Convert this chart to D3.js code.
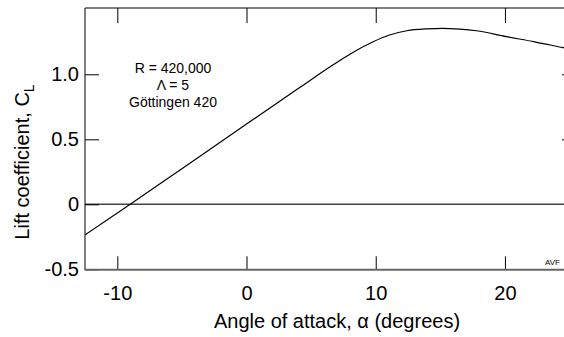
<!DOCTYPE html>
<html>
<head>
<meta charset="utf-8">
<script src="https://cdn.jsdelivr.net/npm/d3@7/dist/d3.min.js"></script>
<style>
  html, body { margin: 0; padding: 0; background: #fff; overflow: hidden; }
  svg { display: block; font-family: "Liberation Sans", Arial, Helvetica, sans-serif; }
</style>
</head>
<body>
<script>
// ---- data ----
const alpha = [-12.5, -9, -5, 0, 4, 6.5, 8, 9.8, 11, 12.4, 14, 15.2, 16.5, 17.8, 20.1, 22.3, 24.5, 25.5];
const liftCL = [-0.235, 0, 0.274, 0.617, 0.89, 1.06, 1.155, 1.25, 1.30, 1.335, 1.35, 1.354, 1.348, 1.335, 1.29, 1.25, 1.205, 1.185];
const xTicks = [-10, 0, 10, 20];
const xTickLabels = ["-10", "0", "10", "20"];
const yTicks = [-0.5, 0, 0.5, 1.0];
const yTickLabels = ["-0.5", "0", "0.5", "1.0"];
const annotation = ["R = 420,000", "\u039B = 5", "G\u00F6ttingen 420"];

const W = 564, H = 337;
const pL = 85, pR = 576, pT = 8, pB = 269.3;
const bigFont = "20px";

const svg = d3.select("body").append("svg").attr("width", W).attr("height", H);

const x = d3.scaleLinear().domain([-12.5, 25.5]).range([pL, pR]);
const y = d3.scaleLinear().domain([-0.5, 1.51]).range([pB, pT]);

// clip
svg.append("defs").append("clipPath").attr("id", "clip")
  .append("rect").attr("x", pL).attr("y", pT).attr("width", pR - pL).attr("height", pB - pT);

// zero line
svg.append("line")
  .attr("x1", pL).attr("x2", pR)
  .attr("y1", y(0)).attr("y2", y(0))
  .attr("stroke", "#444").attr("stroke-width", 1.4);

// axes
const axB = svg.append("g").attr("transform", `translate(0,${pB})`)
  .call(d3.axisBottom(x).tickValues(xTicks).tickSizeInner(-13).tickSizeOuter(0).tickPadding(17)
    .tickFormat((d, i) => xTickLabels[i]));
const axT = svg.append("g").attr("transform", `translate(0,${pT})`)
  .call(d3.axisTop(x).tickValues(xTicks).tickSizeInner(-15).tickSizeOuter(0).tickFormat(""));
const axL = svg.append("g").attr("transform", `translate(${pL},0)`)
  .call(d3.axisLeft(y).tickValues(yTicks).tickSizeInner(-14).tickSizeOuter(0).tickPadding(6)
    .tickFormat((d, i) => yTickLabels[i]));
const axR = svg.append("g").attr("transform", `translate(${pR},0)`)
  .call(d3.axisRight(y).tickValues([0.5, 1.0]).tickSizeInner(-14).tickSizeOuter(0).tickFormat(""));

[axB, axT, axL, axR].forEach(g => {
  g.attr("font-size", null).attr("font-family", null);
  g.select(".domain").remove();
  g.selectAll(".tick line").attr("stroke", "#000").attr("stroke-width", 1);
  g.selectAll("text").attr("fill", "#000").style("font-size", bigFont)
    .style("font-family", '"Liberation Sans", Arial, sans-serif');
});

// frame
svg.append("line").attr("x1", pL).attr("x2", pR).attr("y1", pT).attr("y2", pT)
  .attr("stroke", "#000").attr("stroke-width", 1);
svg.append("line").attr("x1", pL).attr("x2", pL).attr("y1", pT).attr("y2", pB + 1)
  .attr("stroke", "#000").attr("stroke-width", 1);
svg.append("line").attr("x1", pL).attr("x2", pR).attr("y1", pB + 0.5).attr("y2", pB + 0.5)
  .attr("stroke", "#666").attr("stroke-width", 2);

// curve
const pts = alpha.map((a, i) => [a, liftCL[i]]);
svg.append("path")
  .datum(pts)
  .attr("clip-path", "url(#clip)")
  .attr("fill", "none")
  .attr("stroke", "#000")
  .attr("stroke-width", 1.2)
  .attr("d", d3.line().x(d => x(d[0])).y(d => y(d[1])).curve(d3.curveMonotoneX));

// annotation
const ann = svg.append("text").attr("text-anchor", "middle")
  .style("font-size", "14px").attr("fill", "#000");
annotation.forEach((t, i) => {
  ann.append("tspan").attr("x", 173).attr("y", 73 + i * 16.8).text(t);
});

// small credit
svg.append("text").attr("x", 545).attr("y", 265).style("font-size", "8px").attr("fill", "#000").text("AVF");

// axis titles
svg.append("text")
  .attr("x", 337).attr("y", 327.5)
  .attr("text-anchor", "middle").style("font-size", bigFont).attr("fill", "#000")
  .text("Angle of attack, \u03B1 (degrees)");

const yt = svg.append("text")
  .attr("transform", `translate(29,162) rotate(-90)`)
  .attr("text-anchor", "middle").style("font-size", bigFont).attr("fill", "#000");
yt.append("tspan").text("Lift coefficient, C");
yt.append("tspan").attr("dy", 5).style("font-size", "14px").text("L");
</script>
</body>
</html>
